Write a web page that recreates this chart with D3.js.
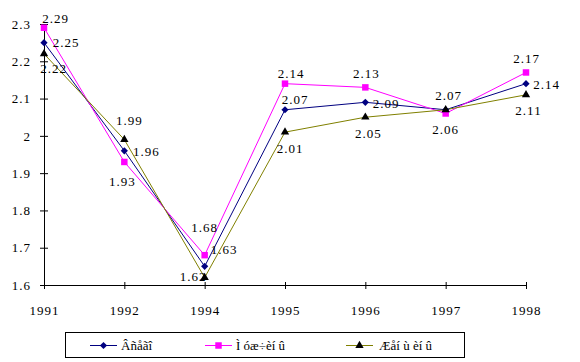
<!DOCTYPE html>
<html>
<head>
<meta charset="utf-8">
<script src="https://cdn.jsdelivr.net/npm/d3@7"></script>
<style>
  body { margin: 0; background: #fff; }
  svg text { font-family: "Liberation Serif", "Times New Roman", serif; }
</style>
</head>
<body>
<div id="chart"></div>
<script>
// categories (years) and series
var years = ["1991", "1992", "1994", "1995", "1996", "1997", "1998"];
var yTicks = [1.6, 1.7, 1.8, 1.9, 2.0, 2.1, 2.2, 2.3];
var seriesNames = ["Âñåãî", "Ì óæ÷èí û", "Æåí ù èí û"];

var totalValues = [2.25, 1.96, 1.65, 2.07, 2.09, 2.07, 2.14];
var menValues   = [2.29, 1.93, 1.68, 2.14, 2.13, 2.06, 2.17];
var womenValues = [2.22, 1.99, 1.62, 2.01, 2.05, 2.07, 2.11];

// label text as printed on the original (1997 women label sits under the total one)
var totalLabels = ["2.25", "1.96", "1.63", "2.07", "2.09", "2.07", "2.14"];
var menLabels   = ["2.29", "1.93", "1.68", "2.14", "2.13", "2.06", "2.17"];
var womenLabels = ["2.22", "1.99", "1.62", "2.01", "2.05", "", "2.11"];

// hand placed data labels (dx to centre, dy to baseline), like in the excel original
var totalNudge = [[22, 4.5], [22, 5.3], [19.5, -12.4], [10, -5.7], [20.7, 5.8], [3, -9.7], [20.5, 5.4]];
var menNudge   = [[11.5, -4.6], [-2, 24], [0, -23], [6, -5.6], [1, -9], [0, 20.6], [0.5, -9.4]];
var womenNudge = [[9.5, 19.3], [5, -14.5], [-11.6, 3.5], [5, 21], [3, 21], [3, -9.7], [2.5, 20]];

var width = 580, height = 362;

var svg = d3.select("#chart")
    .append("svg")
    .attr("width", width)
    .attr("height", height);

svg.append("rect")
    .attr("width", width)
    .attr("height", height)
    .attr("fill", "#FFFFFF");

var x = d3.scalePoint()
    .domain(years)
    .range([44, 526]);

var y = d3.scaleLinear()
    .domain([1.6, 2.3])
    .range([285, 24]);

// y-Achse
var yAxis = svg.append("g")
    .attr("transform", "translate(44,0)")
    .call(d3.axisLeft(y).tickValues(yTicks).tickSize(4).tickSizeOuter(0).tickPadding(9)
        .tickFormat(function (d) { return d === 2 ? "2" : d3.format(".1f")(d); }));
yAxis.select(".domain").attr("stroke", "#000").attr("d", "M0.5," + y(2.3) + "V" + y(1.6));
yAxis.selectAll(".tick line").attr("x1", 4).attr("stroke", "#000");
yAxis.selectAll(".tick text")
    .attr("font-size", "13px")
    .attr("letter-spacing", "1px")
    .attr("fill", "#000")
    .attr("font-family", "Liberation Serif, serif");

// x-Achse
var xAxis = svg.append("g")
    .attr("transform", "translate(0,285)")
    .call(d3.axisBottom(x).tickSize(4).tickSizeOuter(0).tickPadding(17));
xAxis.select(".domain").attr("stroke", "#000").attr("d", "M40,0.5H" + x("1998"));
xAxis.selectAll(".tick line").attr("y1", -3).attr("stroke", "#000");
xAxis.selectAll(".tick text")
    .attr("font-size", "13px")
    .attr("letter-spacing", "1px")
    .attr("fill", "#000")
    .attr("font-family", "Liberation Serif, serif");

var series = [
    {name: seriesNames[0], values: totalValues, labels: totalLabels, nudge: totalNudge, line: "#000080", fill: "#000080", shape: d3.symbolSquare, size: 26, rotate: 45},
    {name: seriesNames[1], values: menValues, labels: menLabels, nudge: menNudge, line: "#FF00FF", fill: "#FF00FF", shape: d3.symbolSquare, size: 42, rotate: 0},
    {name: seriesNames[2], values: womenValues, labels: womenLabels, nudge: womenNudge, line: "#808000", fill: "#000000", shape: d3.symbolTriangle, size: 30, rotate: 0}
];

var line = d3.line()
    .x(function (d, i) { return x(years[i]); })
    .y(function (d) { return y(d); });

// lines
series.forEach(function (s) {
    svg.append("path")
        .datum(s.values)
        .attr("fill", "none")
        .attr("stroke", s.line)
        .attr("stroke-width", 1)
        .attr("d", line);
});

// data labels (drawn before markers so markers sit on top)
series.forEach(function (s) {
    svg.append("g")
        .selectAll("text")
        .data(s.values)
        .enter()
        .append("text")
        .attr("x", function (d, i) { return x(years[i]) + s.nudge[i][0]; })
        .attr("y", function (d, i) { return y(d) + s.nudge[i][1]; })
        .attr("text-anchor", "middle")
        .attr("font-size", "13px")
        .attr("letter-spacing", "1px")
        .attr("fill", "#000")
        .text(function (d, i) { return s.labels[i]; });
});

// markers
series.forEach(function (s) {
    svg.append("g")
        .selectAll("path")
        .data(s.values)
        .enter()
        .append("path")
        .attr("transform", function (d, i) { return "translate(" + x(years[i]) + "," + y(d) + ") rotate(" + s.rotate + ")"; })
        .attr("d", d3.symbol().type(s.shape).size(s.size))
        .attr("fill", s.fill);
});

// legend
var legend = svg.append("g");
legend.append("rect")
    .attr("x", 65.5)
    .attr("y", 332.5)
    .attr("width", 399)
    .attr("height", 25)
    .attr("fill", "#fff")
    .attr("stroke", "#000");

var legendX = [90, 205, 346];
series.forEach(function (s, i) {
    var g = legend.append("g").attr("transform", "translate(" + legendX[i] + ",345)");
    g.append("line")
        .attr("x1", 0).attr("x2", 27)
        .attr("y1", 0.5).attr("y2", 0.5)
        .attr("stroke", s.line);
    g.append("path")
        .attr("transform", "translate(13.5,0.5) rotate(" + s.rotate + ")")
        .attr("d", d3.symbol().type(s.shape).size(s.size))
        .attr("fill", s.fill);
    g.append("text")
        .attr("x", i === 2 ? 33 : 31)
        .attr("y", 5)
        .attr("font-size", "13px")
        .attr("fill", "#000")
        .text(s.name);
});
</script>
</body>
</html>
